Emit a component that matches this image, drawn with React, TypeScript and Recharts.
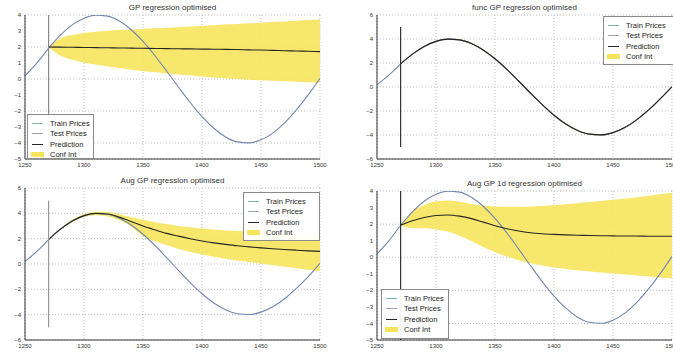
import React from "react"
import {
  ComposedChart,
  Line,
  Area,
  XAxis,
  YAxis,
  CartesianGrid,
  ReferenceLine
} from "recharts"

const years = [1250, 1260, 1270, 1280, 1290, 1300, 1310, 1320, 1330, 1340, 1350, 1360, 1370, 1380, 1390, 1400, 1410, 1420, 1430, 1440, 1450, 1460, 1470, 1480, 1490, 1500]
const prices = [0.2, 0.99, 1.93, 2.74, 3.38, 3.8, 3.99, 3.93, 3.62, 3.08, 2.35, 1.47, 0.5, -0.5, -1.47, -2.35, -3.08, -3.62, -3.93, -3.99, -3.8, -3.38, -2.74, -1.93, -0.99, 0.05]
const splitYear = 1270

// forecasts start at 1270 (24 points)
const gpPred = [2.0, 1.99, 1.98, 1.97, 1.96, 1.95, 1.94, 1.93, 1.92, 1.91, 1.9, 1.89, 1.88, 1.87, 1.86, 1.85, 1.84, 1.82, 1.81, 1.79, 1.77, 1.75, 1.73, 1.71]
const gpLow = [2.0, 1.45, 1.2, 1.02, 0.9, 0.78, 0.68, 0.58, 0.5, 0.42, 0.35, 0.28, 0.22, 0.16, 0.1, 0.05, 0.0, -0.04, -0.08, -0.11, -0.14, -0.17, -0.2, -0.23]
const gpHigh = [2.0, 2.55, 2.75, 2.88, 2.96, 3.02, 3.06, 3.1, 3.13, 3.17, 3.2, 3.24, 3.28, 3.32, 3.36, 3.4, 3.44, 3.48, 3.52, 3.56, 3.6, 3.64, 3.68, 3.72]

const funcPred = [1.93, 2.74, 3.38, 3.8, 3.99, 3.93, 3.62, 3.08, 2.35, 1.47, 0.5, -0.5, -1.47, -2.35, -3.08, -3.62, -3.93, -3.99, -3.8, -3.38, -2.74, -1.93, -0.99, 0.02]
const funcLow = [1.9, 2.68, 3.32, 3.74, 3.93, 3.87, 3.56, 3.02, 2.29, 1.41, 0.44, -0.56, -1.53, -2.41, -3.14, -3.68, -3.99, -4.05, -3.86, -3.44, -2.8, -1.99, -1.05, -0.04]
const funcHigh = [1.96, 2.8, 3.44, 3.86, 4.05, 3.99, 3.68, 3.14, 2.41, 1.53, 0.56, -0.44, -1.41, -2.29, -3.02, -3.56, -3.87, -3.93, -3.74, -3.32, -2.68, -1.87, -0.93, 0.08]

const augPred = [1.93, 2.75, 3.4, 3.82, 4.0, 3.95, 3.7, 3.35, 3.0, 2.7, 2.42, 2.2, 2.0, 1.82, 1.67, 1.55, 1.44, 1.35, 1.27, 1.2, 1.14, 1.09, 1.04, 1.0]
const augLow = [1.93, 2.7, 3.3, 3.72, 3.85, 3.75, 3.45, 2.95, 2.2, 1.8, 1.5, 1.2, 0.95, 0.75, 0.58, 0.42, 0.28, 0.15, 0.03, -0.1, -0.22, -0.34, -0.45, -0.55]
const augHigh = [1.93, 2.8, 3.5, 3.92, 4.12, 4.1, 3.92, 3.7, 3.5, 3.3, 3.15, 3.0, 2.9, 2.8, 2.72, 2.65, 2.6, 2.56, 2.53, 2.5, 2.48, 2.47, 2.46, 2.45]

const aug1dPred = [1.93, 2.2, 2.4, 2.52, 2.55, 2.48, 2.33, 2.12, 1.9, 1.72, 1.58, 1.48, 1.42, 1.38, 1.35, 1.33, 1.31, 1.3, 1.29, 1.28, 1.28, 1.27, 1.27, 1.27]
const aug1dLow = [1.93, 1.75, 1.75, 1.68, 1.55, 1.3, 0.98, 0.62, 0.3, 0.05, -0.18, -0.36, -0.5, -0.62, -0.71, -0.79, -0.86, -0.93, -0.99, -1.05, -1.11, -1.17, -1.22, -1.27]
const aug1dHigh = [1.93, 2.75, 3.15, 3.38, 3.42, 3.35, 3.22, 3.12, 3.07, 3.05, 3.05, 3.07, 3.1, 3.14, 3.2, 3.26, 3.33, 3.4, 3.47, 3.55, 3.63, 3.72, 3.8, 3.9]

const xTicks = [1250, 1300, 1350, 1400, 1450, 1500]
const yTicksSmall = [-5, -4, -3, -2, -1, 0, 1, 2, 3, 4]
const yTicksWide = [-6, -4, -2, 0, 2, 4, 6]

const legendItems = ["Train Prices", "Test Prices", "Prediction", "Conf Int"]

const TRAIN = "#7cb7a8"
const TEST = "#7487b0"
const PRED = "#262626"
const BAND = "#f6e45c"
const FONT = "'Liberation Sans', Arial, sans-serif"

function buildRows(pred: number[], low: number[], high: number[]) {
  return years.map((x, i) => {
    const j = i - 2
    return {
      x,
      train: x <= splitYear ? prices[i] : null,
      test: x >= splitYear ? prices[i] : null,
      pred: j >= 0 ? pred[j] : null,
      band: j >= 0 ? [low[j], high[j]] : null
    }
  })
}

const fmt = (v: number) => String(v).replace("-", "\u2212")

type PanelProps = {
  title: string
  left: number
  top: number
  width: number
  height: number
  margin: { top: number; right: number; bottom: number; left: number }
  rows: any[]
  yDomain: [number, number]
  yTicks: number[]
  cut: [number, number]
  cutColor: string
  legendPos: { left: number; top: number; width: number; height: number }
}

function Legend({ pos }: { pos: PanelProps["legendPos"] }) {
  const colors = [TRAIN, "#9aa4b4", PRED]
  return (
    <div style={{
      position: "absolute", left: pos.left, top: pos.top, width: pos.width, height: pos.height,
      border: "1px solid #8a8a8a", background: "rgba(255,255,255,0.95)", boxSizing: "border-box",
      fontFamily: FONT, fontSize: 7.5, color: "#222", paddingTop: 3
    }}>
      {legendItems.map((name, i) => (
        <div key={name} style={{ display: "flex", alignItems: "center", height: 10.5 }}>
          {i < 3 ? (
            <div style={{ width: 11, height: 1.2, background: colors[i], marginLeft: 4, marginRight: 7 }} />
          ) : (
            <div style={{ width: 13, height: 5, background: BAND, marginLeft: 3, marginRight: 6 }} />
          )}
          <span style={{ whiteSpace: "nowrap" }}>{name}</span>
        </div>
      ))}
    </div>
  )
}

function Panel(p: PanelProps) {
  const plotLeft = p.left + p.margin.left + 22
  const plotRight = p.left + p.width - p.margin.right
  return (
    <>
      <div style={{
        position: "absolute", left: plotLeft, width: plotRight - plotLeft, top: p.top + p.margin.top - 12,
        textAlign: "center", fontFamily: FONT, fontSize: 8, fontWeight: 400, color: "#333"
      }}>{p.title}</div>
      <div style={{ position: "absolute", left: p.left, top: p.top }}>
        <ComposedChart width={p.width} height={p.height} data={p.rows} margin={p.margin}>
          <CartesianGrid stroke="#bdbdbd" strokeDasharray="1 2" />
          <XAxis dataKey="x" type="number" domain={[1250, 1500]} ticks={xTicks} allowDataOverflow
            height={12} tickSize={0} tickMargin={4} stroke="#333"
            tick={{ fontSize: 6, fill: "#333", fontFamily: FONT }} />
          <XAxis xAxisId="top" orientation="top" dataKey="x" type="number" domain={[1250, 1500]}
            height={0} tick={false} tickLine={false} stroke="#333" />
          <YAxis type="number" domain={p.yDomain} ticks={p.yTicks} allowDataOverflow width={22}
            tickSize={0} tickMargin={4} stroke="#333" tickFormatter={fmt}
            tick={{ fontSize: 6, fill: "#333", fontFamily: FONT }} />
          <YAxis yAxisId="right" orientation="right" type="number" domain={p.yDomain}
            width={0} tick={false} tickLine={false} stroke="#333" />
          <Area dataKey="band" type="monotone" fill={BAND} fillOpacity={0.9} stroke="none"
            connectNulls isAnimationActive={false} />
          <Line dataKey="train" type="monotone" stroke={TEST} strokeWidth={1.1} dot={false}
            isAnimationActive={false} />
          <Line dataKey="test" type="monotone" stroke={TEST} strokeWidth={1.1} dot={false}
            isAnimationActive={false} />
          <Line dataKey="pred" type="monotone" stroke={PRED} strokeWidth={1.1} dot={false}
            connectNulls isAnimationActive={false} />
          <ReferenceLine segment={[{ x: splitYear, y: p.cut[0] }, { x: splitYear, y: p.cut[1] }]}
            stroke={p.cutColor} strokeWidth={1.2} ifOverflow="hidden" />
        </ComposedChart>
      </div>
      <Legend pos={p.legendPos} />
    </>
  )
}

export default function App() {
  return (
    <div style={{ position: "absolute", left: 0, top: 0, width: 673, height: 352, overflow: "hidden", background: "#fff" }}>
      <Panel title="GP regression optimised" left={0} top={0} width={340} height={176}
        margin={{ top: 15, right: 20, left: 3, bottom: 5 }}
        rows={buildRows(gpPred, gpLow, gpHigh)} yDomain={[-5, 4]} yTicks={yTicksSmall}
        cut={[-5, 4]} cutColor="#8a8a8a"
        legendPos={{ left: 27, top: 114, width: 67, height: 45 }} />
      <Panel title="func GP regression optimised" left={333} top={0} width={360} height={176}
        margin={{ top: 15, right: 21, left: 22, bottom: 5 }}
        rows={buildRows(funcPred, funcLow, funcHigh)} yDomain={[-6, 6]} yTicks={yTicksWide}
        cut={[-5, 5]} cutColor="#333"
        legendPos={{ left: 603, top: 16, width: 80, height: 49 }} />
      <Panel title="Aug GP regression optimised" left={0} top={176} width={340} height={176}
        margin={{ top: 12, right: 20, left: 3, bottom: 0 }}
        rows={buildRows(augPred, augLow, augHigh)} yDomain={[-6, 6]} yTicks={yTicksWide}
        cut={[-5, 5]} cutColor="#999"
        legendPos={{ left: 243, top: 192, width: 77, height: 49 }} />
      <Panel title="Aug GP 1d regression optimised" left={333} top={176} width={360} height={176}
        margin={{ top: 15, right: 21, left: 22, bottom: 0 }}
        rows={buildRows(aug1dPred, aug1dLow, aug1dHigh)} yDomain={[-5, 4]} yTicks={yTicksSmall}
        cut={[-5, 4]} cutColor="#333"
        legendPos={{ left: 381, top: 289, width: 68, height: 50 }} />
    </div>
  )
}
